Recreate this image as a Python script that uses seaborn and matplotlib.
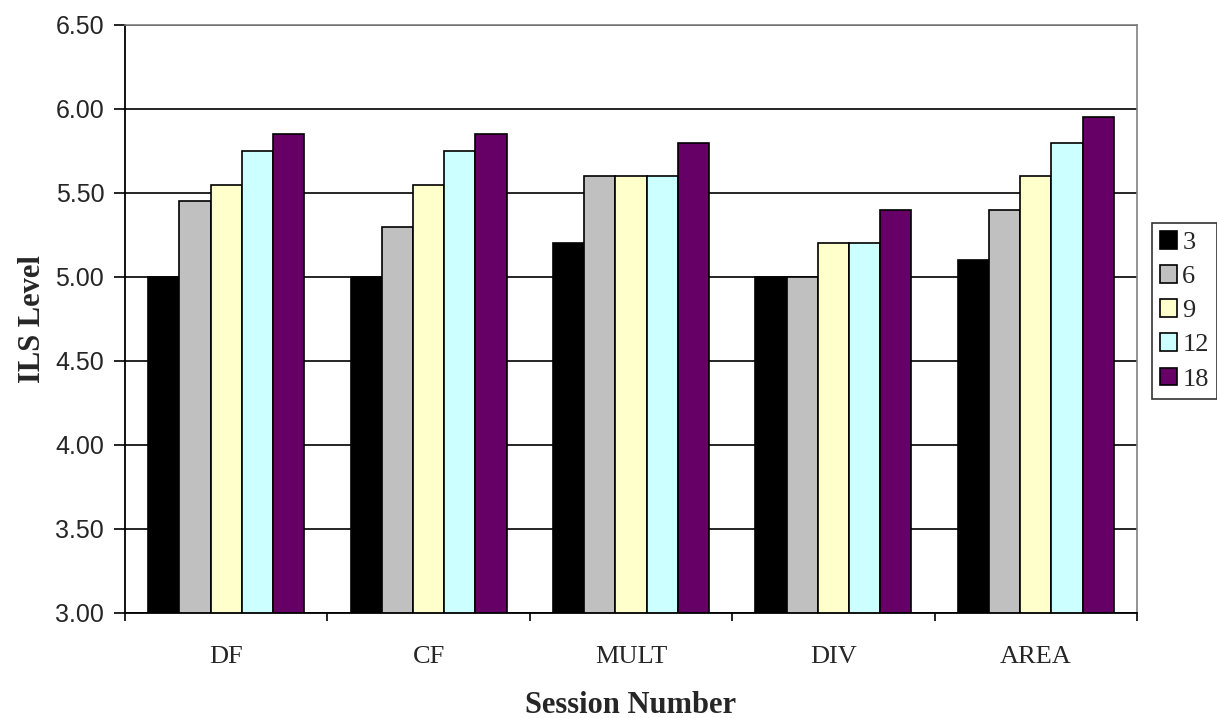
# Grouped bar chart - ILS level by task and session

import pandas as pd
import numpy as np
import matplotlib
matplotlib.use('Agg')
import matplotlib.pyplot as plt
import seaborn as sns

# Data
tasks = ['DF', 'CF', 'MULT', 'DIV', 'AREA']
sessions = ['3', '6', '9', '12', '18']
s3 = [5.00, 5.00, 5.20, 5.00, 5.10]
s6 = [5.45, 5.30, 5.60, 5.00, 5.40]
s9 = [5.55, 5.55, 5.60, 5.20, 5.60]
s12 = [5.75, 5.75, 5.60, 5.20, 5.80]
s18 = [5.85, 5.85, 5.80, 5.40, 5.95]
y_ticks = [3.0, 3.5, 4.0, 4.5, 5.0, 5.5, 6.0, 6.5]

colors = ['#000000', '#C0C0C0', '#FFFFCC', '#CCFFFF', '#660066']

# Build long-form table for seaborn
rows = []
for sess, vals in zip(sessions, [s3, s6, s9, s12, s18]):
    for task, v in zip(tasks, vals):
        rows.append({'Task': task, 'Session': sess, 'ILS': v})
df = pd.DataFrame(rows)

sns.set_style('white')

fig = plt.figure(figsize=(12.17, 7.18), dpi=100)
ax = fig.add_axes([125/1217, 105/718, 1012/1217, 588/718])

sns.barplot(data=df, x='Task', y='ILS', hue='Session', order=tasks,
            hue_order=sessions, palette=colors, width=0.77, gap=0,
            edgecolor='black', linewidth=1.2, saturation=1, ax=ax, legend=True)

# y axis
ax.set_ylim(3.0, 6.5)
ax.set_yticks(y_ticks)
ax.set_yticklabels([f'{t:.2f}' for t in y_ticks], family='Liberation Sans', fontsize=18)
ax.yaxis.grid(True, color='black', linewidth=1.2)
ax.set_axisbelow(True)
ax.tick_params(axis='y', direction='out', length=8, width=1.2, color='black', left=True, pad=7)

# x axis: labels centered, ticks between categories
ax.set_xlim(-0.5, len(tasks) - 0.5)
ax.tick_params(axis='x', which='major', length=0, pad=24)
ax.set_xticks(np.arange(-0.5, len(tasks), 1.0), minor=True)
ax.tick_params(axis='x', which='minor', direction='out', length=6, width=1.2, color='black', bottom=True)
for lbl in ax.get_xticklabels():
    lbl.set_family('Liberation Serif')
    lbl.set_fontsize(19)

ax.set_xlabel('Session Number', family='Liberation Serif', fontweight='bold', fontsize=22, labelpad=16)
ax.set_ylabel('ILS Level', family='Liberation Serif', fontweight='bold', fontsize=22, labelpad=6)

for side in ['left', 'bottom']:
    ax.spines[side].set_color('black')
    ax.spines[side].set_linewidth(1.3)
for side in ['top', 'right']:
    ax.spines[side].set_color('#808080')
    ax.spines[side].set_linewidth(1.2)

# Legend outside on the right
handles, labels = ax.get_legend_handles_labels()
ax.legend_.remove()
leg = fig.legend(handles, labels, loc='upper left', bbox_to_anchor=(1152/1217, 1 - 223/718),
                 borderaxespad=0, frameon=True, fancybox=False, edgecolor='black',
                 prop={'family': 'Liberation Serif', 'size': 19},
                 handlelength=0.65, handleheight=0.65, handletextpad=0.2,
                 labelspacing=0.42, borderpad=0.3)
leg.get_frame().set_linewidth(1.2)

fig.savefig('out.png', dpi=100)
